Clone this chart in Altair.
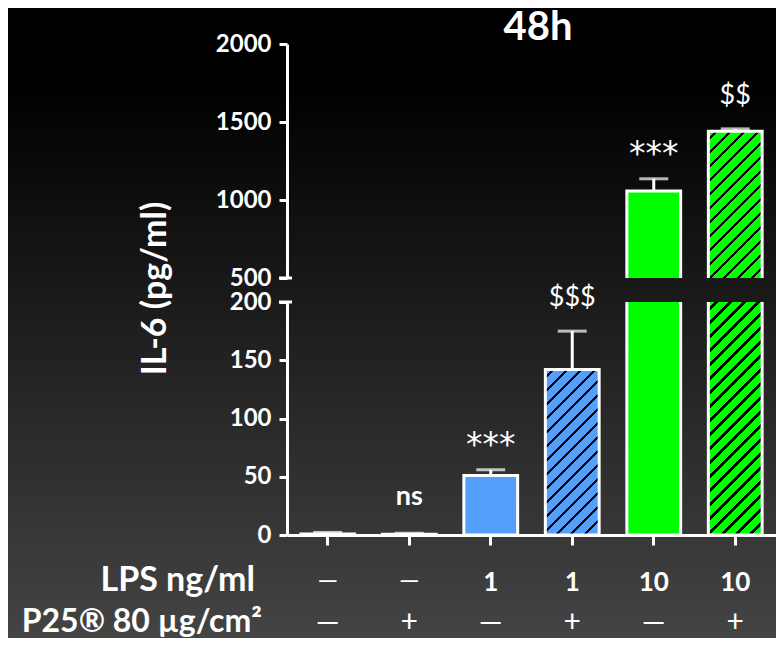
import math
import altair as alt
import pandas as pd

# ---------------- data ----------------
title_text = "48h"
y_title = "IL-6 (pg/ml)"
groups = ["ctrl", "P25", "LPS1", "LPS1+P25", "LPS10", "LPS10+P25"]
il6_mean = [0.8, 0.6, 51, 142, 1058, 1440]
il6_sem = [1.4, 0.9, 5, 33, 78, 16]
stats = ["", "ns", "***", "$$$", "***", "$$"]
lps_labels = ["—", "—", "1", "1", "10", "10"]
p25_labels = ["—", "+", "—", "+", "—", "+"]
row_titles = ["LPS ng/ml", "P25® 80 µg/cm²"]
bar_colors = ["#FFFFFF", "#FFFFFF", "#549FFA", "#549FFA", "#00FF00", "#00FF00"]
hatched = [False, False, False, True, False, True]
low_ticks = [0, 50, 100, 150, 200]
up_ticks = [500, 1000, 1500, 2000]

# ---------------- layout ----------------
W, H = 489, 491
PAD_L, PAD_T, PAD_R, PAD_B = 279, 36, 0, 103
LOW_TOP = 258     # pixel row of 200 (lower panel)
UP_BOT = 234      # pixel row of 500 (upper panel)
PI, PO = 0.34, 0.17
step = W / (len(groups) - PI + 2 * PO)
bw = step * (1 - PI)
FONT = "Lato"
WHITE = "#FFFFFF"

df = pd.DataFrame({
    "group": groups, "mean": il6_mean, "sem": il6_sem, "stat": stats,
    "color": bar_colors, "hatched": hatched,
    "lps": lps_labels, "p25": p25_labels,
})
df["top"] = df["mean"] + df["sem"]
one = pd.DataFrame({"t": [title_text], "yt": [y_title],
                    "r1": [row_titles[0]], "r2": [row_titles[1]]})


def hatch(base, w, h, period=9.9, ink_w=2.6, ink="#000000"):
    D = (w + h) / math.sqrt(2)
    k = (w + h) / (w * w + h * h)
    stops = [alt.GradientStop(offset=0, color=base)]
    p = period * 0.45
    while p < D:
        a = round(p / D, 5)
        b = round(min((p + ink_w) / D, 1), 5)
        stops += [alt.GradientStop(offset=a, color=base),
                  alt.GradientStop(offset=a, color=ink),
                  alt.GradientStop(offset=b, color=ink),
                  alt.GradientStop(offset=b, color=base)]
        p += period
    stops.append(alt.GradientStop(offset=1, color=base))
    return alt.LinearGradient(gradient="linear", stops=stops,
                              x1=0, y1=0, x2=k * w, y2=k * h)


xs = alt.Scale(domain=groups, paddingInner=PI, paddingOuter=PO)
x_axis = alt.Axis(labels=False, title=None, domainColor=WHITE, domainWidth=3,
                  tickColor=WHITE, tickWidth=3, tickSize=10, grid=False,
                  orient="bottom", zindex=2)


def X():
    return alt.X("group:N", scale=xs, axis=x_axis, title=None)


def make_axis(vals):
    return alt.Axis(values=vals, orient="left", title=None, domainColor=WHITE,
                    domainWidth=3, tickColor=WHITE, tickWidth=3, tickSize=8,
                    labelColor=WHITE, labelFont=FONT, labelFontWeight="bold",
                    labelFontSize=24, labelPadding=8, grid=False, format="d",
                    labelOverlap=False, zindex=2)


low_scale = alt.Scale(domain=[0, 200], range=[H, LOW_TOP], clamp=True, nice=False, zero=False)
up_scale = alt.Scale(domain=[500, 2000], range=[UP_BOT, 0], nice=False, zero=False)
low_axis = make_axis(low_ticks)
up_axis = make_axis(up_ticks)

base = alt.Chart(df)


def panel(scale, axis, cond, floor, stub_at, bar_specs):
    def Y(f):
        return alt.Y(f, type="quantitative", scale=scale, axis=axis, title=None)

    layers = []
    for flt, fill, dash in bar_specs:
        kw = dict(stroke=WHITE, strokeWidth=3)
        if dash is not None:
            kw["strokeDash"] = dash
        if isinstance(fill, str) and fill == "field":
            m = base.transform_filter(flt).mark_bar(**kw).encode(
                x=X(), y=Y("mean"), y2=alt.datum(floor),
                fill=alt.Fill("color:N", scale=None))
        else:
            m = base.transform_filter(flt).mark_bar(fill=fill, **kw).encode(
                x=X(), y=Y("mean"), y2=alt.datum(floor))
        layers.append(m)
    err = base.transform_filter(cond)
    layers.append(err.mark_rule(color=WHITE, strokeWidth=3).encode(
        x=X(), y=Y("mean"), y2="top"))
    layers.append(err.mark_tick(color=WHITE, thickness=3, size=29).encode(
        x=X(), y=Y("top")))
    layers.append(alt.Chart(one).mark_rule(color=WHITE, strokeWidth=3).encode(
        y=alt.YDatum(stub_at, type="quantitative", scale=scale, axis=axis),
        x=alt.value(-8), x2=alt.value(5)))
    for sel, fnt, size, weight, dy in [
            ("datum.stat == '***'", "DejaVu Sans", 33, "normal", -14),
            ("datum.stat == 'ns'", FONT, 27, "bold", -28),
            ("indexof(datum.stat, '$') >= 0", FONT, 27, "normal", -25)]:
        layers.append(err.transform_filter(sel).mark_text(
            font=fnt, fontSize=size, fontWeight=weight, color=WHITE,
            baseline="alphabetic", align="center", dy=dy).encode(
            x=X(), y=Y("top"), text="stat:N"))
    return alt.layer(*layers)


hl = H - LOW_TOP
h4 = il6_mean[3] / 200 * hl
lower = panel(
    low_scale, low_axis, "datum.mean <= 200", 0, 200,
    [
        ("!datum.hatched && datum.mean <= 200", "field", None),
        ("datum.group == 'LPS1+P25'", hatch(bar_colors[3], bw, h4), None),
        ("datum.group == 'LPS10'", bar_colors[4], [0, bw, 2 * hl + bw, 0]),
        ("datum.group == 'LPS10+P25'", hatch(bar_colors[5], bw, hl), [0, bw, 2 * hl + bw, 0]),
    ])

h5 = (il6_mean[4] - 500) / 1500 * UP_BOT
h6 = (il6_mean[5] - 500) / 1500 * UP_BOT
upper = panel(
    up_scale, up_axis, "datum.mean >= 500", 500, 500,
    [
        ("datum.group == 'LPS10'", bar_colors[4], [bw + h5, bw, h5, 0]),
        ("datum.group == 'LPS10+P25'", hatch(bar_colors[5], bw, h6), [bw + h6, bw, h6, 0]),
    ])

bg = alt.Chart(one).mark_rect(
    fill=alt.LinearGradient(gradient="linear", x1=0, y1=0, x2=0, y2=1, stops=[
        alt.GradientStop(offset=0, color="#000000"),
        alt.GradientStop(offset=0.12, color="#000000"),
        alt.GradientStop(offset=1, color="#444444")])
).encode(x=alt.value(-PAD_L), x2=alt.value(W + PAD_R), y=alt.value(-PAD_T), y2=alt.value(H + PAD_B))

title = alt.Chart(one).mark_text(font=FONT, fontSize=40, fontWeight="bold", color=WHITE,
                                 align="center", baseline="alphabetic").encode(
    text="t:N", x=alt.value(251), y=alt.value(-4.5))
ytitle = alt.Chart(one).mark_text(font=FONT, fontSize=34, fontWeight="bold", color=WHITE,
                                  align="center", baseline="alphabetic", angle=270).encode(
    text="yt:N", x=alt.value(-121), y=alt.value(244.5))
r1 = alt.Chart(one).mark_text(font=FONT, fontSize=34, fontWeight="bold", color=WHITE,
                              align="right", baseline="alphabetic").encode(
    text="r1:N", x=alt.value(-32), y=alt.value(547))
r2 = alt.Chart(one).mark_text(font=FONT, fontSize=32, fontWeight="bold", color=WHITE,
                              align="right", baseline="alphabetic").encode(
    text="r2:N", x=alt.value(-25), y=alt.value(588))
r1_num = base.transform_filter("datum.lps != '—'").mark_text(
    font=FONT, fontSize=26, fontWeight="bold", color=WHITE, baseline="alphabetic").encode(
    x=X(), text="lps:N", y=alt.value(547))
r1_dash = base.transform_filter("datum.lps == '—'").mark_text(
    font=FONT, fontSize=26, fontWeight="normal", color=WHITE, baseline="alphabetic").encode(
    x=X(), text="lps:N", y=alt.value(545))
r2_sym = base.mark_text(font=FONT, fontSize=30, fontWeight="normal", color=WHITE,
                        baseline="alphabetic").encode(
    x=X(), text="p25:N", y=alt.value(588))

chart = alt.layer(bg, lower, upper, title, ytitle, r1, r2, r1_num, r1_dash, r2_sym).resolve_scale(
    y="independent"
).properties(
    width=W, height=H, background="#000000",
    padding={"left": PAD_L, "top": PAD_T, "right": PAD_R, "bottom": PAD_B},
    autosize=alt.AutoSizeParams(type="none"),
).configure_view(stroke=None)

chart.save("out.html", embed_options={"renderer": "svg", "actions": False})
